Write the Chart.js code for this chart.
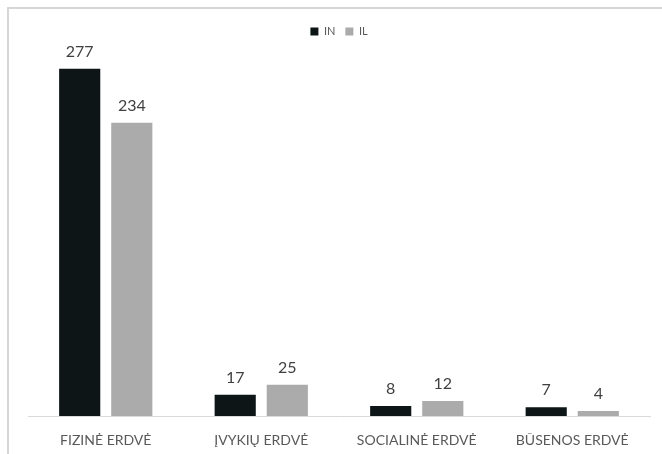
<!DOCTYPE html>
<html>
<head>
<meta charset="utf-8">
<script src="https://cdn.jsdelivr.net/npm/chart.js@4"></script>
<style>
  html, body { margin: 0; padding: 0; background: #fff; }
  #wrap { position: relative; width: 662px; height: 454px; overflow: hidden; }
  #frame { position: absolute; left: 7px; top: 7px; width: 700px; height: 500px;
           border-top: 2px solid #d6d6d6; border-left: 2px solid #d6d6d6; }
  canvas { position: absolute; left: 0; top: 0; }
</style>
</head>
<body>
<div id="wrap">
  <div id="frame"></div>
  <canvas id="c" width="662" height="454"></canvas>
</div>
<script>
const categories = ["FIZINĖ ERDVĖ", "ĮVYKIŲ ERDVĖ", "SOCIALINĖ ERDVĖ", "BŪSENOS ERDVĖ"];
const seriesNames = ["IN", "IL"];
const valuesIN = [277, 17, 8, 7];
const valuesIL = [234, 25, 12, 4];
const colors = ["#0d1517", "#ababab"];

const FONT = 'Lato, "Open Sans", sans-serif';

const valueLabels = {
  id: 'valueLabels',
  afterDatasetsDraw(chart) {
    const ctx = chart.ctx;
    ctx.save();
    ctx.font = '16px ' + FONT;
    ctx.fillStyle = '#404040';
    ctx.textAlign = 'center';
    ctx.textBaseline = 'alphabetic';
    chart.data.datasets.forEach((ds, i) => {
      const meta = chart.getDatasetMeta(i);
      meta.data.forEach((bar, j) => {
        ctx.fillText(String(ds.data[j]), bar.x, bar.y - 12);
      });
    });
    ctx.restore();
  }
};

const legendHeight = {
  id: 'legendHeight',
  beforeInit(chart) {
    const origFit = chart.legend.fit;
    chart.legend.fit = function () {
      origFit.call(this);
      this.height = 24;
    };
  }
};

new Chart(document.getElementById('c'), {
  type: 'bar',
  data: {
    labels: categories,
    datasets: [
      { label: seriesNames[0], data: valuesIN, backgroundColor: colors[0],
        categoryPercentage: 0.67, barPercentage: 0.79 },
      { label: seriesNames[1], data: valuesIL, backgroundColor: colors[1],
        categoryPercentage: 0.67, barPercentage: 0.79 }
    ]
  },
  options: {
    responsive: false,
    animation: false,
    layout: { padding: { left: 28, right: 12, top: 16, bottom: 0 } },
    plugins: {
      legend: {
        position: 'top',
        labels: {
          boxWidth: 8, boxHeight: 8, padding: 10,
          color: '#595959',
          font: { family: FONT, size: 11 }
        }
      },
      tooltip: { enabled: false }
    },
    scales: {
      x: {
        grid: { display: false, drawTicks: false },
        border: { display: true, color: '#d9d9d9', width: 1 },
        ticks: { color: '#595959', padding: 16,
                 font: { family: FONT, size: 14 } },
        afterFit(scale) { scale.height = 38; }
      },
      y: {
        display: false,
        min: 0, max: 300
      }
    }
  },
  plugins: [valueLabels, legendHeight]
});
</script>
</body>
</html>
